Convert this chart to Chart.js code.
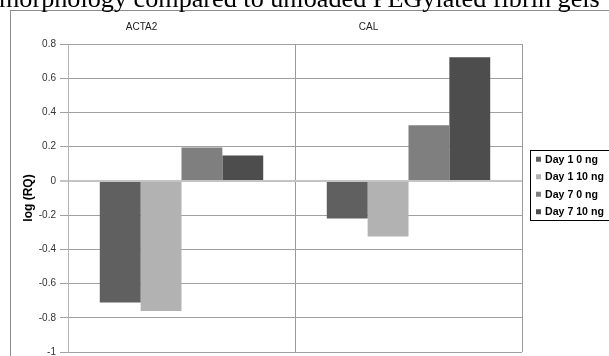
<!DOCTYPE html>
<html>
<head>
<meta charset="utf-8">
<script src="https://cdn.jsdelivr.net/npm/chart.js@4"></script>
<style>
  html, body { margin: 0; padding: 0; background: #fff; overflow: hidden; }
  body { width: 609px; height: 356px; position: relative; }
  #title {
    position: absolute; left: -1px; top: -14px; white-space: nowrap;
    font-family: "Liberation Serif", "Times New Roman", serif; font-size: 26.2px;
    line-height: 26px; color: #000; z-index: 2;
  }
  #box {
    position: absolute; left: 10px; top: 10px; width: 640px; height: 380px;
    border: 1px solid #8c8c8c; background: #fff;
  }
  canvas { display: block; }
</style>
</head>
<body>
<div id="title">morphology compared to unloaded PEGylated fibrin gels</div>
<div id="box"><canvas id="geneChart" width="640" height="380"></canvas></div>
<script>
const genes = ["ACTA2", "CAL"];
const seriesNames = ["Day 1 0 ng", "Day 1 10 ng", "Day 7 0 ng", "Day 7 10 ng"];
const day1_0ng = [-0.71, -0.22];
const day1_10ng = [-0.76, -0.325];
const day7_0ng = [0.195, 0.325];
const day7_10ng = [0.148, 0.722];
const seriesColors = ["#606060", "#b2b2b2", "#7f7f7f", "#4d4d4d"];

// legend with a black frame, like the Excel original
const boxedLegend = {
  id: "boxedLegend",
  afterDraw (chart) {
    const ctx = chart.ctx;
    const area = chart.chartArea;
    const x = area.right + 8;
    const y = area.top + 106;
    const rowH = 17.5;
    ctx.save();
    ctx.strokeStyle = "#000";
    ctx.lineWidth = 1;
    ctx.strokeRect(x + 0.5, y + 0.5, 90, rowH * 4);
    ctx.font = "bold 10.6px 'Liberation Sans', Arial, sans-serif";
    ctx.textBaseline = "middle";
    chart.data.datasets.forEach((ds, i) => {
      const cy = y + rowH * i + rowH / 2 + 1;
      ctx.fillStyle = ds.backgroundColor;
      ctx.fillRect(x + 6, cy - 3, 5, 5);
      ctx.fillStyle = "#000";
      ctx.fillText(ds.label, x + 15, cy);
    });
    ctx.restore();
  }
};

const seriesData = [day1_0ng, day1_10ng, day7_0ng, day7_10ng];

new Chart(document.getElementById("geneChart").getContext("2d"), {
  type: "bar",
  data: {
    labels: genes,
    datasets: seriesNames.map((name, i) => ({
      label: name,
      data: seriesData[i],
      backgroundColor: seriesColors[i],
      borderWidth: 0,
      categoryPercentage: 0.72,
      barPercentage: 1
    }))
  },
  options: {
    responsive: false,
    animation: false,
    layout: { padding: { top: 0, left: 0, right: 129, bottom: 39 } },
    plugins: {
      legend: { display: false },
      tooltip: { enabled: false }
    },
    scales: {
      x: {
        position: "top",
        afterFit (scale) { scale.height = 33; },
        grid: { color: "#9a9a9a", lineWidth: 1, drawTicks: false, offset: true },
        border: { display: false },
        ticks: {
          color: "#222",
          font: { family: "'Liberation Sans', Arial, sans-serif", size: 10 },
          padding: 11,
          labelOffset: -40,
          maxRotation: 0
        }
      },
      y: {
        min: -1,
        max: 0.8,
        afterFit (scale) { scale.width = 57; },
        grid: {
          color: ctx => (ctx.tick && ctx.tick.value === 0) ? "#c4c4c4" : "#a0a0a0",
          lineWidth: ctx => (ctx.tick && ctx.tick.value === 0) ? 2 : 1,
          tickLength: 8,
          drawTicks: true
        },
        border: { color: "#b4b4b4", width: 1 },
        ticks: {
          stepSize: 0.2,
          color: "#333",
          padding: 4,
          font: { family: "'Liberation Sans', Arial, sans-serif", size: 10 },
          callback: v => String(Math.round(v * 10) / 10)
        },
        title: {
          display: true,
          text: "log (RQ)",
          color: "#000",
          padding: { top: 10, bottom: 0 },
          font: { family: "'Liberation Sans', Arial, sans-serif", size: 12, weight: "bold" }
        }
      }
    }
  },
  plugins: [boxedLegend]
});
</script>
</body>
</html>
